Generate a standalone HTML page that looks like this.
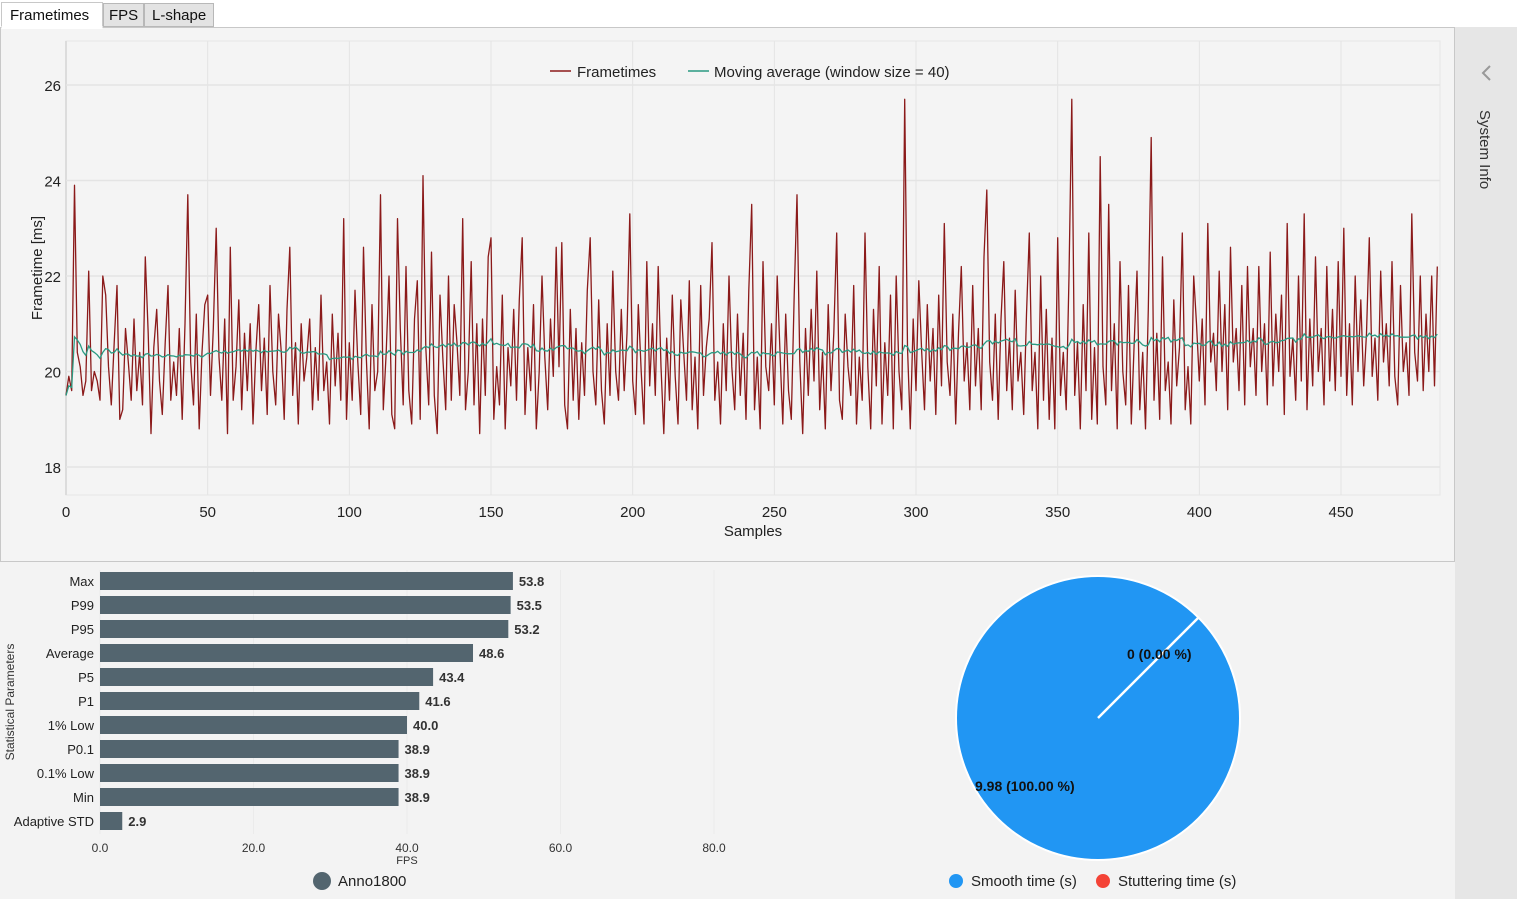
<!DOCTYPE html>
<html><head><meta charset="utf-8"><style>
body{margin:0;width:1517px;height:899px;overflow:hidden;background:#f3f3f3;font-family:"Liberation Sans",sans-serif}
svg{display:block}
</style></head><body>
<svg id="s" width="1517" height="899" xmlns="http://www.w3.org/2000/svg" font-family="Liberation Sans, sans-serif">
<rect x="0" y="0" width="1517" height="27" fill="#ffffff"/>
<rect x="1455" y="27" width="62" height="872" fill="#e6e6e6"/>
<path d="M1490,66 L1483,73 L1490,80" fill="none" stroke="#999" stroke-width="2"/>
<text transform="translate(1480,110) rotate(90)" font-size="15" fill="#333">System Info</text>
<rect x="0.5" y="27.5" width="1454" height="534" fill="#f4f4f4" stroke="#c8c8c8"/>
<g>
<rect x="1.5" y="2.5" width="101" height="25" fill="#fff" stroke="#c8c8c8"/>
<rect x="1.5" y="26" width="101" height="3" fill="#fff"/>
<text x="10" y="20" font-size="15" fill="#111">Frametimes</text>
<rect x="103.5" y="3.5" width="40" height="23" fill="#e3e3e3" stroke="#b8b8b8"/>
<text x="109" y="20" font-size="15" fill="#111">FPS</text>
<rect x="144.5" y="3.5" width="69" height="23" fill="#e3e3e3" stroke="#b8b8b8"/>
<text x="152" y="20" font-size="15" fill="#111">L-shape</text>
</g>
<rect x="66" y="41" width="1374" height="454" fill="#f4f4f4" stroke="#e6e6e6"/>
<line x1="66" y1="41" x2="66" y2="495" stroke="#dcdcdc" stroke-width="2"/>
<g id="grid"></g>
<g id="lines"></g>
<text transform="translate(42,268) rotate(-90)" font-size="15" fill="#222" text-anchor="middle">Frametime [ms]</text>
<text x="753" y="536" font-size="15" fill="#222" text-anchor="middle">Samples</text>
<g>
<line x1="550" y1="71" x2="571" y2="71" stroke="#8b1a1a" stroke-width="1.5"/>
<text x="577" y="77" font-size="15" fill="#222">Frametimes</text>
<line x1="688" y1="71" x2="709" y2="71" stroke="#2a9a82" stroke-width="1.5"/>
<text x="714" y="77" font-size="15" fill="#222">Moving average (window size = 40)</text>
</g>
<g id="bars"></g>
<text transform="translate(14,702) rotate(-90)" font-size="12" fill="#333" text-anchor="middle">Statistical Parameters</text>
<text x="407" y="864" font-size="11" fill="#333" text-anchor="middle">FPS</text>
<circle cx="322" cy="881" r="9" fill="#53656f"/>
<text x="338" y="886" font-size="15" fill="#222">Anno1800</text>
<g id="pie"></g>
<circle cx="956" cy="881" r="7" fill="#2196f3"/>
<text x="971" y="886" font-size="15" fill="#222">Smooth time (s)</text>
<circle cx="1103" cy="881" r="7" fill="#f44336"/>
<text x="1118" y="886" font-size="15" fill="#222">Stuttering time (s)</text>
</svg>
<script>
const frametimes=[
19.5,19.9,19.6,23.9,20.4,20.1,19.5,19.8,22.1,19.6,20.0,19.8,19.4,22.0,21.6,20.1,19.3,20.6,21.8,19.0,
19.2,20.9,20.2,19.4,21.1,19.6,20.4,19.3,22.4,20.8,18.7,20.5,21.3,19.8,19.1,20.6,21.8,19.4,20.2,19.5,
20.9,19.0,21.0,23.7,20.2,19.3,21.2,18.8,20.4,21.4,21.6,19.5,20.9,23.0,20.3,19.4,21.1,18.7,22.6,19.4,
20.1,21.5,19.2,20.8,19.6,21.0,18.9,20.4,21.4,19.6,20.7,19.1,21.8,20.0,19.3,21.2,20.4,19.0,21.3,22.6,
19.5,20.6,18.9,21.0,19.8,20.3,21.1,19.2,20.5,19.4,21.6,19.6,20.2,18.9,21.2,19.7,20.8,19.4,23.2,19.0,
20.6,19.4,21.7,20.2,19.1,22.6,20.3,18.8,21.4,19.6,20.0,23.7,19.2,20.4,22.0,19.1,18.8,23.2,20.9,19.3,
22.2,19.6,18.9,21.1,21.9,19.0,24.1,20.5,19.3,22.5,19.5,18.7,21.6,20.3,19.2,22.0,19.4,21.4,20.6,19.5,
23.2,19.2,20.0,22.3,19.3,21.0,18.7,21.1,19.5,22.4,22.8,19.0,20.1,19.3,21.6,18.8,20.5,19.7,21.3,19.4,
21.5,22.8,19.1,20.5,19.6,21.4,18.8,20.0,22.0,20.3,19.2,21.1,19.9,22.6,20.1,22.7,19.3,18.8,21.3,19.4,
20.9,19.0,20.6,19.5,21.7,22.8,20.0,19.3,21.5,19.6,18.9,21.0,19.5,22.1,20.0,19.4,21.3,19.6,20.8,23.3,
19.8,19.1,21.4,20.0,18.9,22.3,19.7,21.0,19.5,22.2,20.1,18.7,20.7,19.4,21.6,19.9,18.9,21.5,20.4,19.4,
21.9,19.2,20.3,18.8,21.8,19.5,20.5,21.1,22.7,19.4,20.2,18.9,21.0,19.6,22.0,20.1,19.2,21.2,19.5,20.8,
19.0,21.7,23.5,19.2,20.3,18.8,22.3,20.1,19.6,21.0,19.3,22.0,20.4,18.9,21.2,19.6,19.0,21.6,23.7,20.2,
18.7,20.9,19.5,21.3,19.8,22.1,19.2,20.4,18.8,21.4,19.6,20.8,22.9,19.4,19.0,21.2,20.1,19.5,21.8,18.9,
20.3,19.4,22.9,20.1,18.8,21.3,19.7,22.2,18.9,20.6,19.5,21.6,18.8,22.0,20.0,19.2,25.7,20.5,18.8,21.1,
19.6,21.9,20.4,19.2,21.4,19.8,20.9,19.1,21.6,19.7,23.1,20.2,19.5,21.2,18.9,20.8,22.2,19.8,20.6,19.2,
21.8,19.7,20.9,19.2,22.4,23.8,20.2,19.4,21.2,19.0,21.1,22.3,19.6,20.7,19.2,21.7,19.8,20.4,19.1,21.2,
22.9,19.6,20.4,18.8,22.0,19.4,21.3,19.0,20.7,18.8,22.8,19.5,20.4,19.2,22.0,25.7,19.5,20.6,18.8,21.4,
19.6,22.9,19.0,20.5,18.9,24.5,20.1,19.3,23.5,19.6,21.0,18.8,22.3,20.0,19.3,21.8,18.9,20.6,22.1,19.2,
20.4,18.8,21.3,24.9,19.4,20.8,19.0,22.4,19.6,20.2,18.9,21.5,19.7,20.5,22.9,19.2,20.1,18.9,22.0,21.0,
19.8,21.1,19.3,23.1,20.2,20.8,19.6,22.1,20.0,21.4,19.2,22.6,20.2,20.9,19.6,21.8,19.3,22.2,20.1,20.9,
19.5,22.2,20.0,21.0,19.3,22.5,19.7,21.2,20.0,21.6,19.1,23.1,19.9,20.7,19.4,22.0,19.8,23.3,19.2,21.1,
19.7,22.4,20.0,20.9,19.3,22.2,19.8,21.3,19.6,22.3,19.9,23.0,19.5,21.0,19.3,22.0,20.0,21.5,19.7,20.8,
22.8,19.9,20.7,19.4,22.1,20.2,21.0,19.7,22.3,19.9,19.3,21.8,20.0,20.6,19.5,23.3,20.4,19.8,22.0,19.6,
21.2,20.0,22.0,19.7,22.2];
const yTicks=[18,20,22,24,26];
const xTicks=[0,50,100,150,200,250,300,350,400,450];
const windowSize=40;
const barLabels=["Max","P99","P95","Average","P5","P1","1% Low","P0.1","0.1% Low","Min","Adaptive STD"];
const barValues=[53.8,53.5,53.2,48.6,43.4,41.6,40.0,38.9,38.9,38.9,2.9];
const fpsTicks=[0,20,40,60,80];
const pieLabels=["Smooth time (s)","Stuttering time (s)"];
const pieValues=[9.98,0];

const NS="http://www.w3.org/2000/svg";
function mk(t,a,p){const e=document.createElementNS(NS,t);for(const k in a)e.setAttribute(k,a[k]);p.appendChild(e);return e;}
const X=s=>66+s*(1275/450);
const Y=v=>85+(26-v)*(382/8);
const grid=document.getElementById('grid');
yTicks.forEach(t=>{
  const l=mk('line',{x1:66,x2:1440,y1:Y(t),y2:Y(t),stroke:'#e4e4e4','stroke-width':1.5},grid);
  
  
  const tx=mk('text',{x:61,y:Y(t)+6,'font-size':15,fill:'#222','text-anchor':'end'},grid);
  tx.textContent=t;
  
  
});
xTicks.forEach(t=>{
  if(t>0){const l=mk('line',{x1:X(t),x2:X(t),y1:41,y2:495,stroke:'#e4e4e4','stroke-width':1},grid);
  
  }
  const tx=mk('text',{x:X(t),y:517,'font-size':15,fill:'#222','text-anchor':'middle'},grid);
  tx.textContent=t;
  
  
});
const lines=document.getElementById('lines');
let d=frametimes.map((v,i)=>(i?'L':'M')+X(i).toFixed(1)+','+Y(v).toFixed(1)).join('');
const ft=mk('path',{d:d,fill:'none',stroke:'#8b1a1a','stroke-width':1.3,'stroke-linejoin':'round'},lines);


const ma=frametimes.map((v,i)=>{const a=frametimes.slice(Math.max(0,i-windowSize+1),i+1);return a.reduce((p,c)=>p+c,0)/a.length;});
d=ma.map((v,i)=>(i?'L':'M')+X(i).toFixed(1)+','+Y(v).toFixed(1)).join('');
const mv=mk('path',{d:d,fill:'none',stroke:'#2a9a82','stroke-width':1.3},lines);



const bars=document.getElementById('bars');
const BX=v=>100+v*(307/40);
fpsTicks.forEach(t=>{
  const l=mk('line',{x1:BX(t),x2:BX(t),y1:570,y2:834,stroke:'#ebebeb'},bars);
  
  
  const tx=mk('text',{x:BX(t),y:852,'font-size':12,fill:'#333','text-anchor':'middle'},bars);
  tx.textContent=t.toFixed(1);
  
  
});
barLabels.forEach((lab,i)=>{
  const cy=581+i*24;
  const r=mk('rect',{x:100,y:cy-9,width:BX(barValues[i])-100,height:18,fill:'#53656f'},bars);
  
  
  const t=mk('text',{x:94,y:cy+5,'font-size':13,fill:'#222','text-anchor':'end'},bars);
  t.textContent=lab;
  
  
  const v=mk('text',{x:BX(barValues[i])+6,y:cy+5,'font-size':13,'font-weight':'bold',fill:'#333'},bars);
  v.textContent=barValues[i].toFixed(1);
  
  
});

const pie=document.getElementById('pie');
const cx=1098,cy=718,R=142;
const tot=pieValues.reduce((a,b)=>a+b,0);
const c=mk('circle',{cx:cx,cy:cy,r:R,fill:'#2196f3',stroke:'#fff','stroke-width':2},pie);


const ang=-Math.PI/4+ (pieValues[1]/tot)*2*Math.PI;
const sep=mk('line',{x1:cx,y1:cy,x2:cx+R*Math.cos(ang),y2:cy+R*Math.sin(ang),stroke:'#fff','stroke-width':2.5},pie);


const l1=mk('text',{x:1127,y:659,'font-size':14,'font-weight':'bold',fill:'#111'},pie);
l1.textContent=pieValues[1]+' ('+(pieValues[1]/tot*100).toFixed(2)+' %)';


const l2=mk('text',{x:975,y:791,'font-size':14,'font-weight':'bold',fill:'#111'},pie);
l2.textContent=pieValues[0].toFixed(2)+' ('+(pieValues[0]/tot*100).toFixed(2)+' %)';


</script>
</body></html>
